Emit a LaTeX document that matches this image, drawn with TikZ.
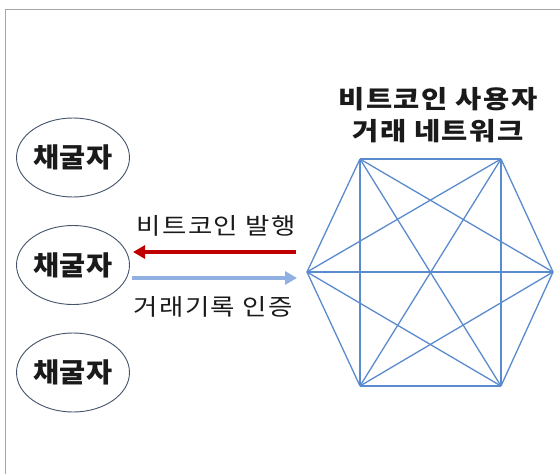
\documentclass[tikz,border=0pt]{standalone}
\usepackage{fontspec}
\setmainfont{Noto Sans CJK KR}
\usetikzlibrary{shapes.geometric,arrows.meta}
\definecolor{hexblue}{HTML}{5B8BCF}
\definecolor{ellline}{HTML}{44546A}
\definecolor{darkred}{HTML}{C00000}
\definecolor{lightblue}{HTML}{8FB0E0}
\definecolor{framegray}{HTML}{A6A6A6}
\definecolor{txt}{HTML}{1A1A1A}
\tikzset{
  miner/.style={ellipse,draw=ellline,line width=0.9pt,minimum width=113pt,minimum height=79pt,inner sep=0pt,font=\fontsize{27}{30}\selectfont\bfseries\addfontfeature{FakeStretch=1.05},text=txt},
  lbl/.style={font=\fontsize{23}{26}\selectfont\addfontfeature{FakeStretch=1.15,LetterSpace=6},text=txt,inner sep=0pt},
  title/.style={font=\fontsize{25}{32}\selectfont\bfseries\addfontfeature{FakeStretch=1.14,LetterSpace=6},text=txt,align=center,inner sep=0pt},
  netedge/.style={draw=hexblue,line width=1.3pt},
  flow/.style={line width=3.4pt,-{Triangle[length=12pt,width=13pt]}}
}
\begin{document}
\begin{tikzpicture}[x=1pt,y=-1pt]
\useasboundingbox (0,0) rectangle (560,474);
\fill[white] (0,0) rectangle (560,474);
\draw[framegray,line width=1pt] (5,474) -- (5,9) -- (560,9);
% miners
\node[miner] (m1) at (73,157.5) {채굴자};
\node[miner] (m2) at (73,265) {채굴자};
\node[miner] (m3) at (73,372.5) {채굴자};
% hexagon vertices
\coordinate (v1) at (360,159);
\coordinate (v2) at (501,159);
\coordinate (v3) at (553,272);
\coordinate (v4) at (501,386);
\coordinate (v5) at (360,386);
\coordinate (v6) at (307,272);
\foreach \a/\b in {1/2,1/3,1/4,1/5,1/6,2/3,2/4,2/5,2/6,3/4,3/5,3/6,4/5,4/6,5/6}
  \draw[netedge] (v\a) -- (v\b);
% title
\node[title] (t) at (438,115) {비트코인 사용자\\거래 네트워크};
% arrows
\coordinate (rs) at (296,252);
\coordinate (re) at (133,252);
\coordinate (bs) at (132,278);
\coordinate (be) at (297,278);
\draw[flow,darkred] (rs) -- (re);
\draw[flow,lightblue] (bs) -- (be);
\node[lbl] (l1) at (216,226) {비트코인 발행};
\node[lbl] (l2) at (213,307) {거래기록 인증};
\end{tikzpicture}
\end{document}
